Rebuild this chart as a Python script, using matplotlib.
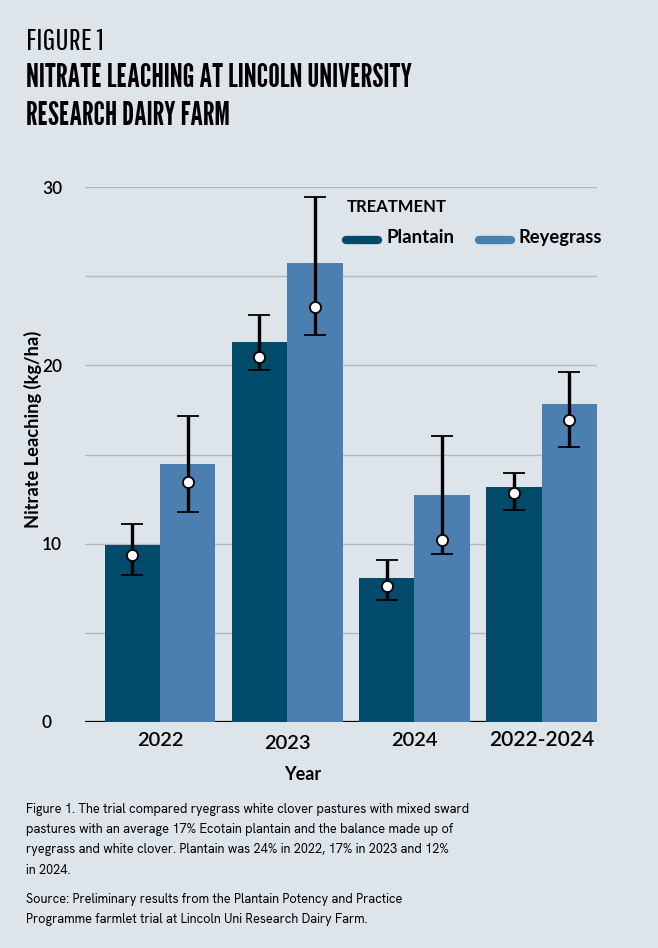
import matplotlib
matplotlib.use("Agg")
import matplotlib.pyplot as plt
from matplotlib.lines import Line2D
from matplotlib import font_manager as fm
import numpy as np

years = ["2022", "2023", "2024", "2022-2024"]
plantain_bar = [9.9, 21.3, 8.1, 13.15]
reyegrass_bar = [14.45, 25.75, 12.75, 17.85]
plantain_mean = [9.35, 20.45, 7.65, 12.85]
plantain_lo = [8.25, 19.75, 6.85, 11.9]
plantain_hi = [11.1, 22.85, 9.1, 13.95]
reyegrass_mean = [13.45, 23.25, 10.2, 16.95]
reyegrass_lo = [11.8, 21.7, 9.4, 15.4]
reyegrass_hi = [17.15, 29.45, 16.05, 19.6]
yticks_major = [0, 10, 20, 30]
yticks_grid = [0, 5, 10, 15, 20, 25, 30]
series = ["Plantain", "Reyegrass"]

BG = "#dde5eb"
C_PL = "#004a6a"
C_RY = "#4a7fb0"

available = set(f.name for f in fm.fontManager.ttflist)
def pick(cands):
    for c in cands:
        if c in available:
            return c
    return "DejaVu Sans"

def wnum(wt):
    if isinstance(wt, (int, float)):
        return wt
    return {"bold": 700, "semibold": 600, "demibold": 600, "heavy": 800, "black": 900,
            "extra bold": 800, "ultrabold": 800}.get(str(wt).lower(), 400)

def pick_bold(cands):
    for c in cands:
        for f in fm.fontManager.ttflist:
            if f.name == c and wnum(f.weight) >= 600 and f.style == "normal":
                return c
    return "DejaVu Sans"

F_FIG = pick(["Pathway Gothic One", "Oswald", "Barlow Condensed"])
F_HEAD = pick(["League Gothic", "Bebas Neue", "Barlow Condensed"])
F_BOLD = pick_bold(["Schibsted Grotesk", "Work Sans", "Plus Jakarta Sans", "Hanken Grotesk", "Lato"])
F_TEXT = pick(["Hanken Grotesk", "Instrument Sans", "Lato"])
BW = "bold"

W, H = 658, 948
fig = plt.figure(figsize=(W/100, H/100), dpi=100, facecolor=BG)
ax = fig.add_axes([85/W, 1-722/H, (597-85)/W, (722-187)/H])
ax.set_facecolor(BG)

x = np.arange(len(years))
w = 0.436
ax.bar(x - w/2, plantain_bar, width=w, color=C_PL, zorder=2)
ax.bar(x + w/2, reyegrass_bar, width=w, color=C_RY, zorder=2)

for off, m, lo, hi in [(-w/2, plantain_mean, plantain_lo, plantain_hi),
                       (w/2, reyegrass_mean, reyegrass_lo, reyegrass_hi)]:
    m = np.array(m)
    ax.errorbar(x + off, m, yerr=[m - np.array(lo), np.array(hi) - m],
                fmt='o', color='black', ecolor='black', elinewidth=2.4, capsize=8, capthick=2.4,
                markerfacecolor='white', markeredgecolor='black', markersize=8,
                markeredgewidth=1.3, zorder=4)

for v in yticks_grid[1:]:
    ax.axhline(v, color="#b3b8bb", lw=1.0, zorder=1)
ax.axhline(0, color="black", lw=1.6, zorder=1)

ax.set_xlim(-0.59, 3.436)
ax.set_ylim(0, 30)
for s in ax.spines.values():
    s.set_visible(False)
ax.set_yticks(yticks_major)
ax.set_yticklabels([str(v) for v in yticks_major], fontsize=14, family=F_BOLD, fontweight="semibold")
ax.tick_params(axis='y', length=0, pad=0)
ax.set_xticks([])

fits = []
xlab_y = [-0.034, -0.041, -0.034, -0.034]
xlab_w = [47, 47, 47, 106]
for i, yr in enumerate(years):
    t = ax.text(x[i], xlab_y[i], yr, transform=ax.get_xaxis_transform(), ha="center", va="center",
                fontsize=14, family=F_BOLD, fontweight="semibold")
    fits.append((t, xlab_w[i], "w"))

t = fig.text(303/W, 1-775/H, "Year", ha="center", va="center", fontsize=12, family=F_BOLD, fontweight=BW)
fits.append((t, 37, "w"))
t = fig.text(33/W, 1-429/H, "Nitrate Leaching (kg/ha)", ha="center", va="center", rotation=90,
             fontsize=12, family=F_BOLD, fontweight=BW)
fits.append((t, 196, "h"))

# Legend
t = fig.text(347/W, 1-207/H, "TREATMENT", ha="left", va="center", fontsize=12, family=F_BOLD, fontweight=BW)
fits.append((t, 100, "w"))
fig.add_artist(Line2D([346/W, 378/W], [1-240/H]*2, color=C_PL, lw=6, solid_capstyle="round"))
t = fig.text(386/W, 1-238/H, series[0], ha="left", va="center", fontsize=12, family=F_BOLD, fontweight=BW)
fits.append((t, 68, "w"))
fig.add_artist(Line2D([479/W, 511/W], [1-240/H]*2, color=C_RY, lw=6, solid_capstyle="round"))
t = fig.text(519/W, 1-238/H, series[1], ha="left", va="center", fontsize=12, family=F_BOLD, fontweight=BW)
fits.append((t, 83, "w"))

# Titles
t = fig.text(26/W, 1-42/H, "FIGURE 1", ha="left", va="center", fontsize=24, family=F_FIG)
fits.append((t, 78, "w"))
t = fig.text(26/W, 1-78/H, "NITRATE LEACHING AT LINCOLN UNIVERSITY", ha="left", va="center", fontsize=24,
             family=F_HEAD)
fits.append((t, 390, "w"))
t = fig.text(26/W, 1-116/H, "RESEARCH DAIRY FARM", ha="left", va="center", fontsize=24,
             family=F_HEAD)
fits.append((t, 205, "w"))

caption = ["Figure 1. The trial compared ryegrass white clover pastures with mixed sward",
           "pastures with an average 17% Ecotain plantain and the balance made up of",
           "ryegrass and white clover. Plantain was 24% in 2022, 17% in 2023 and 12%",
           "in 2024."]
cap_t = []
for i, line in enumerate(caption):
    cap_t.append(fig.text(26/W, 1-(810+20*i)/H, line, ha="left", va="center", fontsize=10.5, family=F_TEXT))
source = ["Source: Preliminary results from the Plantain Potency and Practice",
          "Programme farmlet trial at Lincoln Uni Research Dairy Farm."]
src_t = []
for i, line in enumerate(source):
    src_t.append(fig.text(26/W, 1-(900+19*i)/H, line, ha="left", va="center", fontsize=10.5, family=F_TEXT))

fig.canvas.draw()
r = fig.canvas.get_renderer()
for t, target, dim in fits:
    bb = t.get_window_extent(r)
    cur = bb.width if dim == "w" else bb.height
    t.set_fontsize(t.get_fontsize() * target / cur)
bb = cap_t[0].get_window_extent(r)
cs = cap_t[0].get_fontsize() * 445 / bb.width
for t in cap_t + src_t:
    t.set_fontsize(cs)
lab30 = ax.get_yticklabels()[-1]
bb = lab30.get_window_extent(r)
ys = lab30.get_fontsize() * 20 / bb.width
for lab in ax.get_yticklabels():
    lab.set_fontsize(ys)
    lab.set_x(-43/512)
    lab.set_horizontalalignment("left")

fig.savefig("out.png", dpi=100, facecolor=BG)
